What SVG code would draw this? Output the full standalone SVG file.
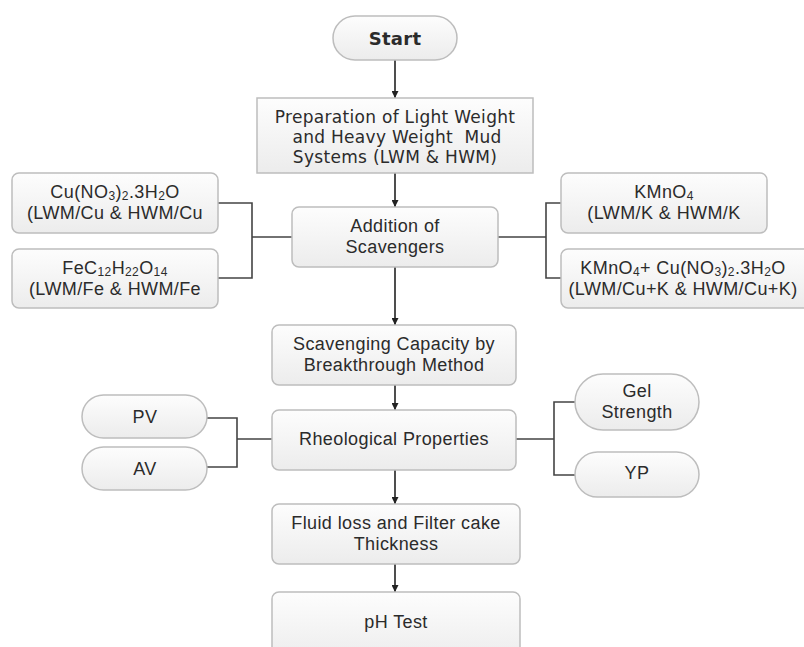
<svg xmlns="http://www.w3.org/2000/svg" width="804" height="647" viewBox="0 0 804 647">
<defs>
<linearGradient id="g" x1="0" y1="0" x2="0" y2="1">
<stop offset="0" stop-color="#fdfdfd"/>
<stop offset="1" stop-color="#ececec"/>
</linearGradient>
<marker id="arr" viewBox="0 0 10 10" refX="10" refY="5" markerWidth="7" markerHeight="7" orient="auto" markerUnits="userSpaceOnUse">
<path d="M0,0 L10,5 L0,10 z" fill="#222"/>
</marker>
<style>
.box{fill:url(#g);stroke:#bdbdbd;stroke-width:1.5}
.t{font-family:"Liberation Sans",Arial,sans-serif;font-size:18px;letter-spacing:0.4px;fill:#2b2b2b;text-anchor:middle}
.v{font-family:"DejaVu Sans",Verdana,sans-serif;font-size:17px;letter-spacing:0.3px;fill:#2b2b2b;text-anchor:middle}
.ln{fill:none;stroke:#444;stroke-width:1.6}
.ar{fill:none;stroke:#222;stroke-width:1.6;marker-end:url(#arr)}
.s{font-size:12px}
</style>
</defs>
<rect width="804" height="647" fill="#fff"/>
<g id="connectors">
<line class="ar" x1="395" y1="60" x2="395" y2="98"/>
<line class="ar" x1="395" y1="173" x2="395" y2="207"/>
<line class="ar" x1="395" y1="267" x2="395" y2="325"/>
<line class="ar" x1="395" y1="385" x2="395" y2="410"/>
<line class="ar" x1="395" y1="470" x2="395" y2="504"/>
<line class="ar" x1="395" y1="564" x2="395" y2="592"/>
<path class="ln" d="M218,203 H252 V278 H218 M252,237 H292"/>
<path class="ln" d="M561,203 H546 V278 H561 M498,237 H546"/>
<path class="ln" d="M207,418 H237 V467 H207 M237,439 H272"/>
<path class="ln" d="M575,402 H554 V475 H575 M516,439 H554"/>
</g>
<g id="start">
<rect class="box" x="333" y="16" width="124" height="44" rx="22"/>
<text class="v" x="395" y="45" style="font-weight:bold;font-size:18px">Start</text>
</g>
<g id="prep">
<rect class="box" x="257" y="98" width="276" height="75"/>
<text class="v" x="395" y="123">Preparation of Light Weight</text>
<text class="v" x="397" y="143">and Heavy Weight&#160; Mud</text>
<text class="v" x="395" y="163">Systems (LWM &amp; HWM)</text>
</g>
<g id="addition">
<rect class="box" x="292" y="207" width="206" height="60" rx="7"/>
<text class="t" x="395" y="232">Addition of</text>
<text class="t" x="395" y="253">Scavengers</text>
</g>
<g id="cu">
<rect class="box" x="12" y="173" width="206" height="60" rx="7"/>
<text class="t" x="115" y="198">Cu(NO<tspan class="s" dy="2">3</tspan><tspan dy="-2">)</tspan><tspan class="s" dy="2">2</tspan><tspan dy="-2">.3H</tspan><tspan class="s" dy="2">2</tspan><tspan dy="-2">O</tspan></text>
<text class="t" x="115" y="219">(LWM/Cu &amp; HWM/Cu</text>
</g>
<g id="fe">
<rect class="box" x="12" y="249" width="206" height="59" rx="7"/>
<text class="t" x="115" y="274">FeC<tspan class="s" dy="2">12</tspan><tspan dy="-2">H</tspan><tspan class="s" dy="2">22</tspan><tspan dy="-2">O</tspan><tspan class="s" dy="2">14</tspan></text>
<text class="t" x="115" y="295">(LWM/Fe &amp; HWM/Fe</text>
</g>
<g id="kmno4">
<rect class="box" x="561" y="173" width="206" height="60" rx="7"/>
<text class="t" x="664" y="198">KMnO<tspan class="s" dy="2">4</tspan></text>
<text class="t" x="664" y="219">(LWM/K &amp; HWM/K</text>
</g>
<g id="kmno4cu">
<rect class="box" x="561" y="249" width="250" height="59" rx="7"/>
<text class="t" x="683" y="274">KMnO<tspan class="s" dy="2">4</tspan><tspan dy="-2">+ Cu(NO</tspan><tspan class="s" dy="2">3</tspan><tspan dy="-2">)</tspan><tspan class="s" dy="2">2</tspan><tspan dy="-2">.3H</tspan><tspan class="s" dy="2">2</tspan><tspan dy="-2">O</tspan></text>
<text class="t" x="683" y="295">(LWM/Cu+K &amp; HWM/Cu+K)</text>
</g>
<g id="scavenging">
<rect class="box" x="272" y="325" width="244" height="60" rx="7"/>
<text class="t" x="394" y="350">Scavenging Capacity by</text>
<text class="t" x="394" y="371">Breakthrough Method</text>
</g>
<g id="rheo">
<rect class="box" x="272" y="410" width="244" height="60" rx="7"/>
<text class="t" x="394" y="445">Rheological Properties</text>
</g>
<g id="pv">
<rect class="box" x="82" y="395" width="125" height="43" rx="21.5"/>
<text class="t" x="145" y="423">PV</text>
</g>
<g id="av">
<rect class="box" x="82" y="447" width="125" height="43" rx="21.5"/>
<text class="t" x="145" y="475">AV</text>
</g>
<g id="gel">
<rect class="box" x="575" y="374" width="124" height="56" rx="28"/>
<text class="t" x="637" y="397">Gel</text>
<text class="t" x="637" y="418">Strength</text>
</g>
<g id="yp">
<rect class="box" x="575" y="452" width="124" height="45" rx="22.5"/>
<text class="t" x="637" y="479">YP</text>
</g>
<g id="fluid">
<rect class="box" x="272" y="504" width="248" height="60" rx="7"/>
<text class="t" x="396" y="529">Fluid loss and Filter cake</text>
<text class="t" x="396" y="550">Thickness</text>
</g>
<g id="ph">
<rect class="box" x="272" y="592" width="248" height="70" rx="7"/>
<text class="t" x="396" y="628">pH Test</text>
</g>
</svg>
